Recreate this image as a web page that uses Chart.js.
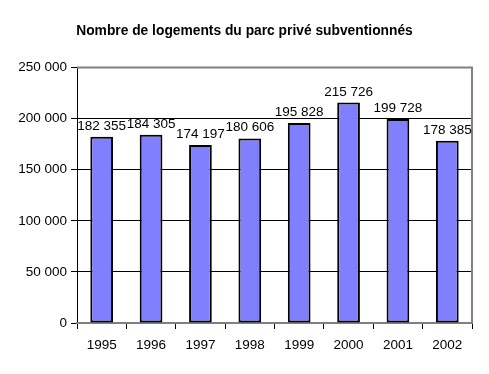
<!DOCTYPE html>
<html>
<head>
<meta charset="utf-8">
<script src="https://cdn.jsdelivr.net/npm/chart.js@4.4.1/dist/chart.umd.min.js"></script>
<style>
  html, body { margin: 0; padding: 0; background: #fff; }
  #wrap { width: 489px; height: 374px; }
</style>
</head>
<body>
<div id="wrap"><canvas id="chart" width="489" height="374"></canvas></div>
<script>
// Data
const years = ['1995', '1996', '1997', '1998', '1999', '2000', '2001', '2002'];
const logements = [182355, 184305, 174197, 180606, 195828, 215726, 199728, 178385];
const yTicks = [0, 50000, 100000, 150000, 200000, 250000];

// French style thousands: "182 355"
function fmt(n) {
    return String(n).replace(/\B(?=(\d{3})+(?!\d))/g, ' ');
}

// gray frame around the plot area (top + right), like Excel
const frame = {
    id: 'frame',
    beforeDatasetsDraw(chart) {
        const a = chart.chartArea;
        const ctx = chart.ctx;
        ctx.save();
        ctx.strokeStyle = '#808080';
        ctx.lineWidth = 2;
        ctx.beginPath();
        ctx.moveTo(a.left, a.top);
        ctx.lineTo(a.right, a.top);
        ctx.lineTo(a.right, a.bottom);
        ctx.lineTo(a.left, a.bottom);
        ctx.stroke();
        ctx.restore();
    }
};

// value labels above each bar
const valueLabels = {
    id: 'valueLabels',
    afterDatasetsDraw(chart) {
        const ctx = chart.ctx;
        const meta = chart.getDatasetMeta(0);
        ctx.save();
        ctx.font = '13.5px "Liberation Sans", Arial, sans-serif';
        ctx.fillStyle = '#000';
        ctx.textAlign = 'center';
        ctx.textBaseline = 'bottom';
        meta.data.forEach((bar, i) => {
            ctx.fillText(fmt(logements[i]), bar.x, bar.y - 4);
        });
        ctx.restore();
    }
};

const ctx = document.getElementById('chart').getContext('2d');
new Chart(ctx, {
    type: 'bar',
    data: {
        labels: years,
        datasets: [{
            data: logements,
            backgroundColor: '#8080FF',
            borderColor: '#000000',
            borderWidth: 2,
            borderSkipped: false,
            categoryPercentage: 1,
            barPercentage: 0.46
        }]
    },
    options: {
        responsive: false,
        animation: false,
        layout: { padding: { left: 17, right: 17, top: 0, bottom: 0 } },
        plugins: {
            legend: { display: false },
            tooltip: { enabled: false },
            title: {
                display: true,
                text: 'Nombre de logements du parc privé subventionnés',
                color: '#000',
                font: { family: '"Liberation Sans", Arial, sans-serif', size: 13.8, weight: 'bold' },
                padding: { top: 23, bottom: 28 }
            }
        },
        scales: {
            x: {
                offset: true,
                grid: {
                    offset: true,
                    drawOnChartArea: false,
                    drawTicks: true,
                    tickLength: 6,
                    color: '#000'
                },
                border: { color: '#808080', width: 2 },
                ticks: {
                    color: '#000',
                    padding: 8,
                    font: { family: '"Liberation Sans", Arial, sans-serif', size: 13.5 }
                },
                afterFit(scale) { scale.height = 51; }
            },
            y: {
                min: 0,
                max: 250000,
                afterBuildTicks(scale) {
                    scale.ticks = yTicks.map(v => ({ value: v }));
                },
                grid: {
                    color: '#000',
                    lineWidth: 1,
                    drawTicks: true,
                    tickLength: 6
                },
                border: { color: '#000', width: 1 },
                ticks: {
                    color: '#000',
                    padding: 4,
                    font: { family: '"Liberation Sans", Arial, sans-serif', size: 13.5 },
                    callback: v => fmt(v)
                },
                afterFit(scale) { scale.width = 60; }
            }
        }
    },
    plugins: [frame, valueLabels]
});
</script>
</body>
</html>
